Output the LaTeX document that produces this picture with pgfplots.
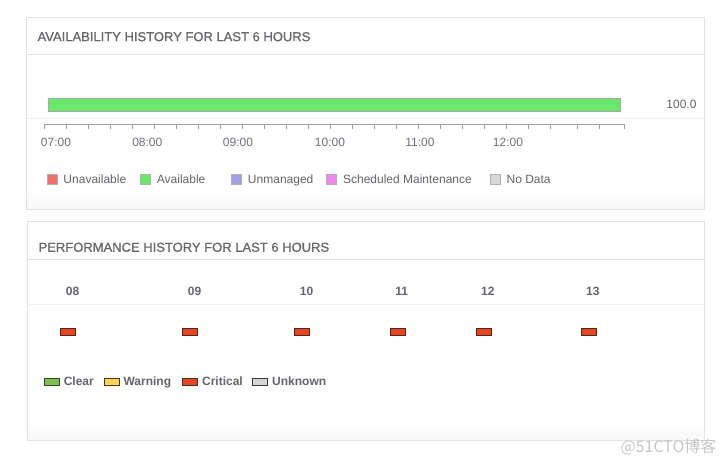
\documentclass[border=0pt]{standalone}
\usepackage{fontspec}
\setmainfont{Liberation Sans}
\newfontfamily\titlefont[FakeBold=0.9]{Liberation Sans}
\newfontfamily\cjk{Noto Sans CJK SC}
\usepackage{pgfplots}
\pgfplotsset{compat=1.18}
\newdimen\px \px=0.75pt
\definecolor{panelborder}{RGB}{226,226,226}
\definecolor{sepline}{RGB}{228,228,228}
\definecolor{lightline}{RGB}{242,242,242}
\definecolor{panelbot}{RGB}{248,248,248}
\definecolor{titlegray}{RGB}{104,104,108}
\definecolor{txtgray}{RGB}{100,100,106}
\definecolor{timegray}{RGB}{112,112,120}
\definecolor{axisgray}{RGB}{160,160,160}
\definecolor{bargray}{RGB}{168,168,168}
\definecolor{sqgray}{RGB}{176,176,176}
\definecolor{availgreen}{RGB}{106,230,108}
\definecolor{unavail}{RGB}{240,110,110}
\definecolor{unmanaged}{RGB}{160,160,230}
\definecolor{sched}{RGB}{238,136,238}
\definecolor{nodata}{RGB}{216,216,216}
\definecolor{clear}{RGB}{126,192,80}
\definecolor{warning}{RGB}{255,210,84}
\definecolor{critical}{RGB}{232,68,32}
\definecolor{unknown}{RGB}{212,212,212}
\definecolor{darkborder}{RGB}{60,56,52}
\definecolor{critborder}{RGB}{80,40,30}
\definecolor{wmgray}{RGB}{200,200,200}
\begin{document}
\begin{tikzpicture}[x=0.75pt,y=0.75pt]
\fill[white] (0,0) rectangle (726,463);
% ---- top panel ----
\shade[top color=white,bottom color=panelbot] (26.7,253.7) rectangle (704,272);
\draw[panelborder,line width=0.75pt] (26.7,253.7) rectangle (704,445.7);
\draw[sepline,line width=0.75pt] (26.7,408) -- (704,408);
\draw[lightline,line width=0.75pt] (26.7,344) -- (704,344);
\node[anchor=west,text=titlegray,font=\titlefont\fontsize{9.75}{12}\selectfont,inner sep=0pt] at (37.3,426.3) {AVAILABILITY HISTORY FOR LAST 6 HOURS};
% ---- bottom panel ----
\shade[top color=white,bottom color=panelbot] (27.3,22) rectangle (704,42);
\draw[panelborder,line width=0.75pt] (27.3,22) rectangle (704,241.3);
\draw[sepline,line width=0.75pt] (27.3,203.7) -- (704,203.7);
\node[anchor=west,text=titlegray,font=\titlefont\fontsize{9.75}{12}\selectfont,inner sep=0pt] at (38.3,215.7) {PERFORMANCE HISTORY FOR LAST 6 HOURS};
% ---- availability chart ----
\begin{axis}[
  at={(33.525pt,254.025pt)}, anchor=south west,
  scale only axis, width=434.7pt, height=21.975pt,
  xmin=44.7, xmax=624.3, ymin=0, ymax=29.3,
  axis x line*=bottom, axis y line=none,
  axis line style={draw=axisgray,line width=0.75pt},
  tick align=outside, major tick length=3.75pt,
  tick style={draw=axisgray,line width=0.75pt},
  xtick={44.7,66.7,88.7,110.7,132.7,154.7,176.7,198.7,220.7,242.7,264.7,286.7,308.7,330.7,352.7,374.7,396.7,418.7,440.7,462.7,484.7,506.7,528.7,550.7,577.3,599.3,624.3},
  xticklabels={},
  extra x ticks={56,147.3,238,330,420,508},
  extra x tick labels={07:00,08:00,09:00,10:00,11:00,12:00},
  extra x tick style={major tick length=0pt,tick style={draw=none}},
  xticklabel style={anchor=center,yshift=-13.3pt,text=timegray,font=\fontsize{9}{11}\selectfont},
  clip=false,
  legend image code/.code={\draw[#1] (0pt,-3.75pt) rectangle (7.5pt,3.75pt);},
  legend columns=5,
  legend style={at={(0.00345,-1.90)},anchor=west,draw=none,fill=none,inner sep=0pt,outer sep=0pt,
    font=\fontsize{9}{11}\selectfont,text=txtgray,nodes={inner sep=0pt},
    /tikz/every odd column/.append style={column sep=5.8\px}},
  legend cell align=left,
]
\addplot[forget plot,fill=availgreen,draw=bargray,line width=0.75pt]
  coordinates {(48.3,12.6) (620.7,12.6) (620.7,26) (48.3,26)} -- cycle;
\node[anchor=east,text=txtgray,font=\fontsize{9}{11}\selectfont,inner sep=0pt] at (axis cs:696.7,20) {100.0};
\addlegendimage{fill=unavail,draw=sqgray,line width=0.75pt}
\addlegendentry{\makebox[76.6\px][l]{Unavailable}}
\addlegendimage{fill=availgreen,draw=sqgray,line width=0.75pt}
\addlegendentry{\makebox[74.3\px][l]{Available}}
\addlegendimage{fill=unmanaged,draw=sqgray,line width=0.75pt}
\addlegendentry{\makebox[78.3\px][l]{Unmanaged}}
\addlegendimage{fill=sched,draw=sqgray,line width=0.75pt}
\addlegendentry{\makebox[146.7\px][l]{Scheduled Maintenance}}
\addlegendimage{fill=nodata,draw=sqgray,line width=0.75pt}
\addlegendentry{No Data}
\end{axis}
% ---- performance chart ----
\begin{axis}[
  at={(20.475pt,88.5pt)}, anchor=south west,
  scale only axis, width=507.525pt, height=30pt,
  xmin=27.3, xmax=704, ymin=0, ymax=40,
  axis x line*=top, axis y line=none,
  axis line style={draw=lightline,line width=0.75pt},
  major tick length=0pt, tick style={draw=none},
  xtick={68.3,190.3,302.3,397.5,483.5,588.5},
  xticklabels={08,09,10,11,12,13},
  xticklabel style={anchor=center,xshift=4.3\px,yshift=10pt,text=txtgray,font=\bfseries\fontsize{9}{11}\selectfont},
  clip=false,
  legend image code/.code={\draw[#1] (0pt,-2.625pt) rectangle (11.25pt,2.625pt);},
  legend columns=4,
  legend style={at={(0.02468,-0.9175)},anchor=west,draw=none,fill=none,inner sep=0pt,outer sep=0pt,
    font=\bfseries\fontsize{9}{11}\selectfont,text=txtgray,nodes={inner sep=0pt},
    /tikz/every odd column/.append style={column sep=3.8\px}},
  legend cell align=left,
]
\addplot[forget plot,only marks,mark=square*,mark size=2.8pt,
  mark options={xscale=2,fill=critical,draw=critborder,line width=0.6pt}]
  coordinates {(68.3,13) (190.3,13) (302.3,13) (397.5,13) (483.5,13) (588.5,13)};
\addlegendimage{fill=clear,draw=darkborder,line width=0.75pt}
\addlegendentry{\makebox[40\px][l]{Clear}}
\addlegendimage{fill=warning,draw=darkborder,line width=0.75pt}
\addlegendentry{\makebox[58.7\px][l]{Warning}}
\addlegendimage{fill=critical,draw=darkborder,line width=0.75pt}
\addlegendentry{\makebox[50.3\px][l]{Critical}}
\addlegendimage{fill=unknown,draw=darkborder,line width=0.75pt}
\addlegendentry{Unknown}
\end{axis}
\node[anchor=east,text=wmgray,font=\cjk\fontsize{12}{14}\selectfont,inner sep=0pt] at (716.7,16.3) {@51CTO博客};
\pgfresetboundingbox
\path (0,0) rectangle (726,463);
\end{tikzpicture}
\end{document}
